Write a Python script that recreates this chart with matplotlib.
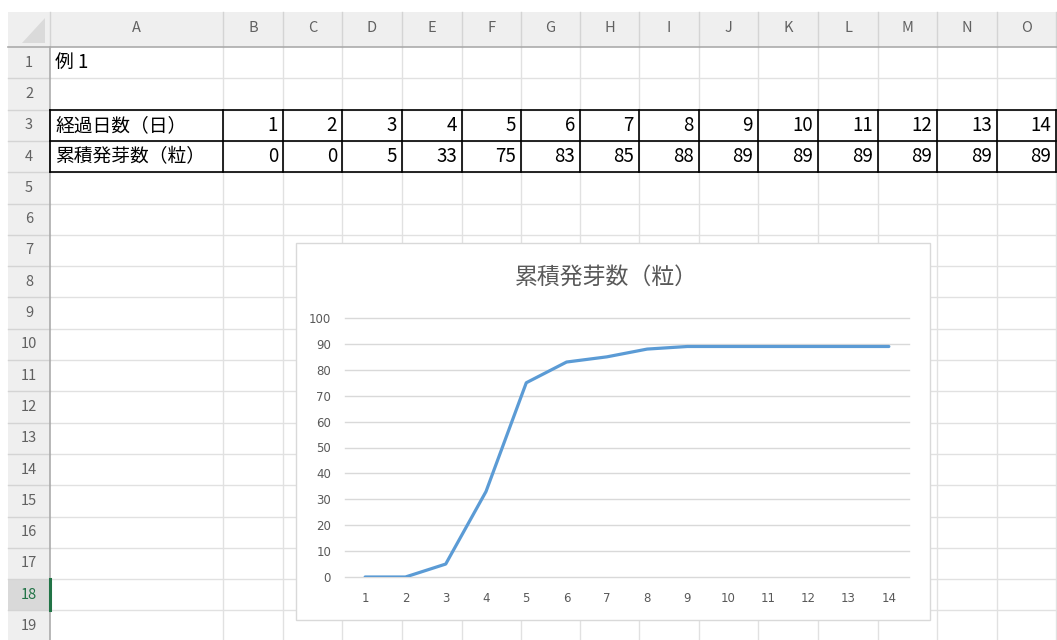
import matplotlib
matplotlib.use("Agg")
import matplotlib.pyplot as plt
from matplotlib.patches import Rectangle

plt.rcParams['font.family'] = ['Noto Sans CJK JP', 'DejaVu Sans']

# sheet data
days = [1, 2, 3, 4, 5, 6, 7, 8, 9, 10, 11, 12, 13, 14]
counts = [0, 0, 5, 33, 75, 83, 85, 88, 89, 89, 89, 89, 89, 89]
row_label_days = "経過日数（日）"
row_label_counts = "累積発芽数（粒）"
title_cell = "例 1"
chart_title = "累積発芽数（粒）"
col_letters = ["A", "B", "C", "D", "E", "F", "G", "H", "I", "J", "K", "L", "M", "N", "O"]
row_numbers = list(range(1, 20))
y_ticks = list(range(0, 101, 10))

W, H = 1057, 640
fig = plt.figure(figsize=(W / 100, H / 100), dpi=100)
sheet = fig.add_axes([0, 0, 1, 1])
sheet.set_xlim(0, W)
sheet.set_ylim(H, 0)
sheet.axis("off")

# grid geometry (pixels)
col_edges = [50, 223, 283, 342, 402, 462, 521, 580, 639, 699, 758, 818, 878, 937, 997, 1056]
head_top, head_bot = 12, 47
row_h = 31.3
row_edges = [head_bot + i * row_h for i in range(len(row_numbers) + 1)]
sel_row = 18

grid_c = "#E1E1E1"
head_bg = "#EFEFEF"
head_txt = "#616161"

# header strips
sheet.add_patch(Rectangle((8, head_top), W - 8, head_bot - head_top, fc=head_bg, ec="none"))
sheet.add_patch(Rectangle((8, head_bot), col_edges[0] - 8, H - head_bot, fc=head_bg, ec="none"))
# selected row header
r0 = row_edges[sel_row - 1]
sheet.add_patch(Rectangle((8, r0), col_edges[0] - 8, row_h, fc="#D9D9D9", ec="none"))
# corner triangle
sheet.fill([22, 45, 45], [43, 43, 18], color="#DADADA", lw=0)

# cell grid
for x in col_edges[1:]:
    sheet.plot([x, x], [head_bot, H], color=grid_c, lw=1, solid_capstyle="butt")
for y in row_edges[1:]:
    sheet.plot([col_edges[0], W], [y, y], color=grid_c, lw=1, solid_capstyle="butt")
# header separators
for x in col_edges:
    sheet.plot([x, x], [head_top, head_bot], color="#D4D4D4", lw=1)
for y in row_edges[1:]:
    sheet.plot([8, col_edges[0]], [y, y], color="#D4D4D4", lw=1)
sheet.plot([8, W], [head_bot, head_bot], color="#ABABAB", lw=1.2)
sheet.plot([col_edges[0], col_edges[0]], [head_bot, H], color="#ABABAB", lw=1.2)
sheet.plot([col_edges[0], col_edges[0]], [r0, r0 + row_h], color="#217346", lw=2.2)

# header labels
for i, letter in enumerate(col_letters):
    cx = (col_edges[i] + col_edges[i + 1]) / 2
    sheet.text(cx, (head_top + head_bot) / 2 - 1, letter, ha="center", va="center",
               fontsize=10.5, color=head_txt)
for i, n in enumerate(row_numbers):
    cy = (row_edges[i] + row_edges[i + 1]) / 2
    sheet.text(29, cy, str(n), ha="center", va="center", fontsize=10.5,
               color="#217346" if n == sel_row else head_txt)

# cell contents
def row_mid(r):
    return (row_edges[r - 1] + row_edges[r]) / 2

cell_fs = 13.5
sheet.text(col_edges[0] + 5, row_mid(1), title_cell, ha="left", va="center", fontsize=cell_fs)
sheet.text(col_edges[0] + 5, row_mid(3), row_label_days, ha="left", va="center", fontsize=cell_fs)
sheet.text(col_edges[0] + 5, row_mid(4), row_label_counts, ha="left", va="center", fontsize=cell_fs)
for i, (d, c) in enumerate(zip(days, counts)):
    xr = col_edges[i + 2] - 5
    sheet.text(xr, row_mid(3), str(d), ha="right", va="center", fontsize=cell_fs)
    sheet.text(xr, row_mid(4), str(c), ha="right", va="center", fontsize=cell_fs)

# table borders
t_top, t_bot = row_edges[2], row_edges[4]
for y in [row_edges[2], row_edges[3], row_edges[4]]:
    sheet.plot([col_edges[0], col_edges[-1]], [y, y], color="black", lw=1.2)
for x in col_edges:
    sheet.plot([x, x], [t_top, t_bot], color="black", lw=1.2)

# chart area
cx0, cy0, cx1, cy1 = 296, 243, 930, 620
sheet.add_patch(Rectangle((cx0, cy0), cx1 - cx0, cy1 - cy0, fc="white", ec="#D9D9D9", lw=1, zorder=5))
sheet.text(606, 277, chart_title, ha="center", va="center",
           fontsize=16.5, color="#595959", zorder=6)

px0, px1, py_top, py_bot = 345, 909, 318, 577
ax = fig.add_axes([px0 / W, (H - py_bot) / H, (px1 - px0) / W, (py_bot - py_top) / H])
ax.patch.set_alpha(0)
ax.plot(days, counts, color="#5B9BD5", lw=2.3, solid_capstyle="round", zorder=3)
ax.set_xlim(0.5, 14.5)
ax.set_ylim(0, 100)
ax.set_yticks(y_ticks)
ax.set_xticks(days)
ax.grid(axis="y", color="#D9D9D9", lw=1, clip_on=False)
for gl in ax.get_ygridlines():
    gl.set_clip_on(False)
ax.set_axisbelow(True)
for s in ax.spines.values():
    s.set_visible(False)
ax.tick_params(axis="both", length=0, labelsize=8.5, labelcolor="#595959")
for lbl in ax.get_xticklabels() + ax.get_yticklabels():
    lbl.set_family("DejaVu Sans")
ax.tick_params(axis="y", pad=10)
ax.tick_params(axis="x", pad=11)

fig.savefig("out.png", dpi=100)
